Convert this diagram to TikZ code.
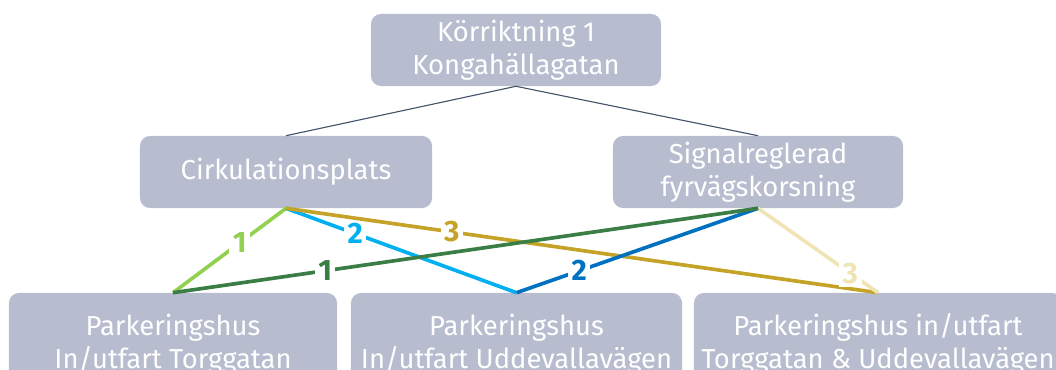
\documentclass[tikz,border=0pt]{standalone}
\usepackage{fontspec}
\setmainfont{Fira Sans}
\definecolor{boxgray}{HTML}{B7BDCF}
\definecolor{navy}{HTML}{44546A}
\definecolor{lgreen}{HTML}{92D050}
\definecolor{lblue}{HTML}{00B0F0}
\definecolor{gold}{HTML}{C4A328}
\definecolor{dgreen}{HTML}{3A7E45}
\definecolor{dblue}{HTML}{0070C0}
\definecolor{pale}{HTML}{F0E4B4}
\begin{document}
\begin{tikzpicture}[x=0.025cm,y=-0.025cm,
  box/.style={shape=rectangle,rounded corners=0.25cm,fill=boxgray,text=white,align=center,inner sep=0pt,font=\fontsize{19.5}{23.5}\selectfont},
  link/.style={line width=2.6pt},
  nr/.style={fill=white,inner sep=2.5pt,font=\bfseries\fontsize{21}{21}\selectfont}]
\useasboundingbox (0,0) rectangle (1056,369);
\clip (0,0) rectangle (1056,369);
\node (top) at (516,50) [box,minimum width=7.25cm,minimum height=1.8cm] {Körriktning 1\\Kongahällagatan};
\node (cirk) at (286,172) [box,minimum width=7.3cm,minimum height=1.8cm] {Cirkulationsplats};
\node (signal) at (758,172) [box,minimum width=7.25cm,minimum height=1.8cm] {Signalreglerad\\fyrvägskorsning};
\node (ph1) at (173,344) [box,minimum width=8.2cm,minimum height=2.55cm] {Parkeringshus\\In/utfart Torggatan};
\node (ph2) at (516.5,344) [box,minimum width=8.275cm,minimum height=2.55cm] {Parkeringshus\\In/utfart Uddevallavägen};
\node (ph3) at (878,344) [box,minimum width=9.2cm,minimum height=2.55cm] {Parkeringshus in/utfart\\Torggatan \& Uddevallavägen};
\draw[navy,line width=0.8pt] (top.south) -- (cirk.north);
\draw[navy,line width=0.8pt] (top.south) -- (signal.north);
\draw[link,lgreen] (cirk.south) -- node[nr,pos=0.41,text=lgreen] {1} (ph1.north);
\draw[link,lblue] (cirk.south) -- node[nr,pos=0.3,text=lblue] {2} (ph2.north);
\draw[link,gold] (cirk.south) -- node[nr,pos=0.28,text=gold] {3} (ph3.north);
\draw[link,pale] (signal.south) -- node[nr,pos=0.77,text=pale] {3} (ph3.north);
\draw[link,dblue] (signal.south) -- node[nr,pos=0.74,text=dblue] {2} (ph2.north);
\draw[link,dgreen] (signal.south) -- node[nr,pos=0.74,text=dgreen] {1} (ph1.north);
\end{tikzpicture}
\end{document}
